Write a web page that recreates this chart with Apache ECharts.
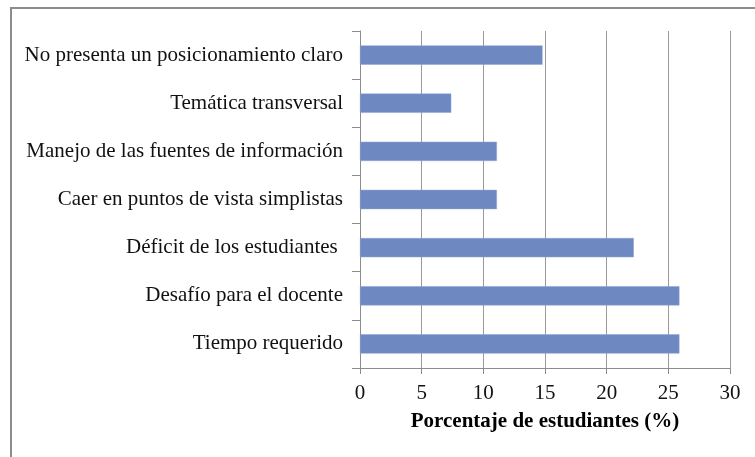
<!DOCTYPE html>
<html>
<head>
<meta charset="utf-8">
<script src="https://cdn.jsdelivr.net/npm/echarts@6/dist/echarts.min.js"></script>
<style>
    html, body { margin: 0; padding: 0; background: #fff; }
    #frame { position: absolute; left: 10px; top: 7px; width: 760px; height: 460px; border-left: 2px solid #8c8c8c; border-top: 2px solid #8c8c8c; }
    #chart { position: absolute; left: 0; top: 0; width: 755px; height: 457px; }
</style>
</head>
<body>
<div id="frame"></div>
<div id="chart"></div>
<script>
// categorias de arriba hacia abajo
const categorias = [
    'No presenta un posicionamiento claro',
    'Temática transversal',
    'Manejo de las fuentes de información',
    'Caer en puntos de vista simplistas',
    'Déficit de los estudiantes ',
    'Desafío para el docente',
    'Tiempo requerido'
]
const porcentajes = [14.8, 7.4, 11.1, 11.1, 22.2, 25.9, 25.9]
const ticksX = [0, 5, 10, 15, 20, 25, 30]
const tituloX = 'Porcentaje de estudiantes (%)'

const chart = echarts.init(document.getElementById('chart'))
const fuente = '"Liberation Serif", "Times New Roman", serif'
const gris = '#8c8c8c'

chart.setOption({
    animation: false,
    grid: {
        left: 360,
        right: 25,
        top: 31,
        bottom: 89
    },
    xAxis: {
        type: 'value',
        min: ticksX[0],
        max: ticksX[ticksX.length - 1],
        interval: 5,
        name: tituloX,
        nameLocation: 'middle',
        nameGap: 43,
        nameTextStyle: {
            fontFamily: fuente,
            fontSize: 21,
            fontWeight: 'bold',
            color: '#000'
        },
        axisLine: { show: true, lineStyle: { color: gris, width: 1 } },
        axisTick: { show: true, length: 6, lineStyle: { color: gris } },
        axisLabel: {
            fontFamily: fuente,
            fontSize: 21,
            color: '#111',
            margin: 15
        },
        splitLine: { show: true, lineStyle: { color: '#9a9a9a', width: 1 } }
    },
    yAxis: {
        type: 'category',
        inverse: true,
        data: categorias,
        axisLine: { show: true, lineStyle: { color: gris, width: 1 } },
        axisTick: { show: true, length: 8, lineStyle: { color: gris } },
        axisLabel: {
            fontFamily: fuente,
            fontSize: 21,
            color: '#111',
            margin: 17
        },
        splitLine: { show: false }
    },
    series: [{
        type: 'bar',
        data: porcentajes,
        barWidth: '40%',
        itemStyle: {
            color: '#6e88c1',
            borderColor: '#8fa3d3',
            borderWidth: 0.5
        }
    }]
})
</script>
</body>
</html>
